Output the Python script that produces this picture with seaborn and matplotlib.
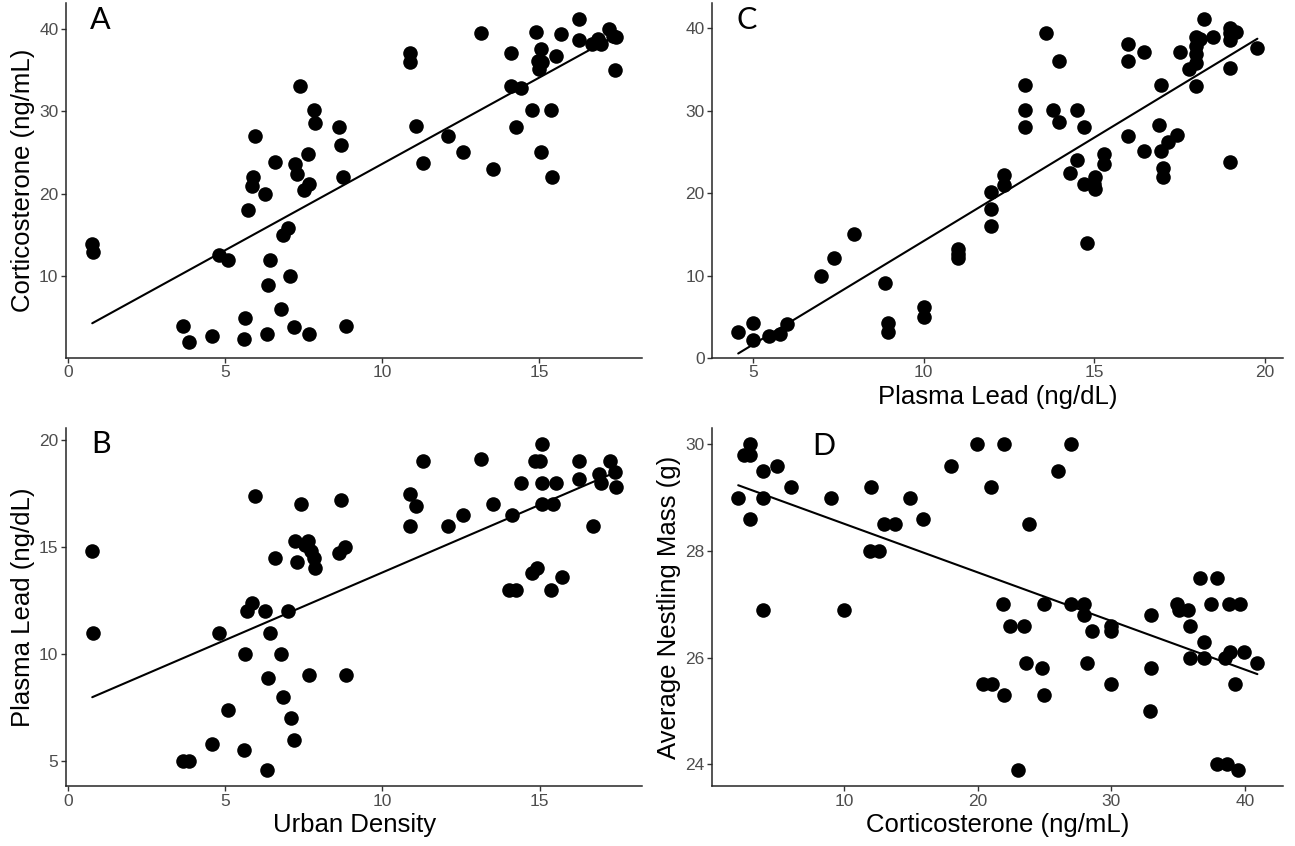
import pandas as pd
import seaborn as sns
import matplotlib.pyplot as plt

# panel A: urban density vs corticosterone
urban_a = [0.78, 0.82, 3.68, 3.86, 4.58, 4.81, 5.10, 5.60, 5.64, 5.72, 5.85, 5.89, 5.96, 6.27,
           6.33, 6.37, 6.42, 6.59, 6.79, 6.85, 7.01, 7.08, 7.19, 7.22, 7.28, 7.40, 7.51, 7.68,
           7.64, 7.67, 7.82, 7.86, 8.63, 8.69, 8.77, 8.85, 10.89, 10.89, 11.06, 11.30, 12.08,
           12.57, 13.14, 13.53, 14.11, 14.10, 14.26, 14.40, 14.78, 14.90, 14.94, 15.06, 15.07,
           15.00, 15.06, 15.36, 15.41, 15.52, 15.69, 16.26, 16.26, 16.68, 16.86, 16.95, 17.22,
           17.34, 17.44, 17.40]
cort_a = [13.9, 12.9, 4.0, 2.1, 2.8, 12.6, 12.0, 2.4, 5.0, 18.0, 21.0, 22.0, 27.0, 20.0,
          3.0, 9.0, 12.0, 23.9, 6.0, 15.0, 15.9, 10.0, 3.9, 23.6, 22.4, 33.0, 20.5, 21.2,
          24.8, 3.0, 30.1, 28.6, 28.1, 25.9, 22.0, 4.0, 37.1, 36.0, 28.2, 23.7, 27.0,
          25.1, 39.5, 23.0, 37.0, 33.0, 28.1, 32.8, 30.1, 39.6, 36.1, 37.5, 35.9,
          35.1, 25.1, 30.1, 22.0, 36.7, 39.3, 41.2, 38.6, 38.1, 38.8, 38.1, 40.0,
          39.1, 39.0, 35.0]

# panel B: urban density vs plasma lead
urban_b = [0.78, 0.81, 3.68, 3.86, 4.58, 4.81, 5.10, 5.60, 5.64, 5.71, 5.87, 5.96, 6.27, 6.33,
           6.37, 6.42, 6.59, 6.79, 6.85, 7.01, 7.09, 7.20, 7.22, 7.28, 7.40, 7.55, 7.64, 7.73,
           7.82, 7.86, 7.67, 8.63, 8.70, 8.80, 8.85, 10.89, 10.89, 11.06, 11.30, 12.08, 12.57,
           13.14, 13.53, 14.04, 14.26, 14.11, 14.40, 14.76, 14.90, 14.86, 15.00, 15.06, 15.06,
           15.06, 15.36, 15.42, 15.52, 15.70, 16.26, 16.26, 16.68, 16.90, 16.95, 17.22, 17.40,
           17.43]
lead_b = [14.8, 11.0, 5.0, 5.0, 5.8, 11.0, 7.4, 5.5, 10.0, 12.0, 12.4, 17.4, 12.0, 4.6,
          8.9, 11.0, 14.5, 10.0, 8.0, 12.0, 7.0, 6.0, 15.3, 14.3, 17.0, 15.1, 15.3, 14.8,
          14.5, 14.0, 9.0, 14.7, 17.2, 15.0, 9.0, 17.5, 16.0, 16.9, 19.0, 16.0, 16.5,
          19.1, 17.0, 13.0, 13.0, 16.5, 18.0, 13.8, 14.0, 19.0, 19.0, 19.8, 18.0,
          17.0, 13.0, 17.0, 18.0, 13.6, 19.0, 18.2, 16.0, 18.4, 18.0, 19.0, 18.5,
          17.8]

# panel C: plasma lead vs corticosterone
lead_c = [4.57, 5.0, 5.0, 5.48, 5.78, 6.0, 6.98, 7.36, 7.97, 8.88, 8.96, 8.96, 10.0, 10.0,
          11.0, 11.0, 11.0, 11.98, 11.98, 11.98, 12.36, 12.36, 12.97, 12.97, 12.97, 13.58,
          13.78, 13.96, 13.96, 14.29, 14.48, 14.48, 14.68, 14.68, 14.77, 14.99, 15.01, 15.01,
          15.29, 15.29, 15.99, 15.99, 15.99, 16.46, 16.46, 16.96, 16.88, 16.96, 17.0, 17.0,
          17.16, 17.41, 17.5, 17.78, 17.97, 17.97, 17.97, 17.97, 17.97, 18.22, 18.08, 18.47,
          18.98, 18.98, 18.98, 19.14, 18.98, 18.98, 19.77]
cort_c = [3.1, 4.2, 2.2, 2.6, 2.9, 4.1, 10.0, 12.1, 15.0, 9.1, 4.2, 3.1, 6.2, 5.0,
          13.2, 12.6, 12.1, 20.1, 18.1, 16.0, 22.2, 21.0, 33.1, 30.1, 28.0, 39.4,
          30.1, 36.0, 28.7, 22.4, 30.1, 24.0, 28.0, 21.1, 13.9, 21.1, 22.0, 20.5,
          24.8, 23.6, 38.1, 36.0, 27.0, 37.1, 25.1, 33.1, 28.3, 25.1, 23.1, 22.0,
          26.2, 27.1, 37.2, 35.1, 39.0, 37.9, 36.9, 35.8, 33.0, 41.2, 38.7, 39.0,
          40.1, 39.4, 38.6, 39.6, 35.2, 23.8, 37.6]

# panel D: corticosterone vs average nestling mass
cort_d = [2.04, 2.47, 2.90, 2.96, 2.96, 3.93, 3.93, 3.87, 4.98, 6.0, 8.97, 9.94, 12.0, 11.94,
          12.57, 13.0, 13.82, 14.93, 15.85, 17.98, 19.95, 20.4, 21.0, 21.06, 21.9, 21.98,
          21.98, 22.4, 22.97, 23.43, 23.63, 23.86, 24.77, 24.94, 24.94, 26.0, 26.97, 26.97,
          27.96, 27.96, 28.14, 28.53, 29.96, 29.96, 29.96, 32.95, 32.95, 32.9, 34.9, 35.1,
          35.75, 35.92, 35.92, 36.63, 36.97, 36.97, 37.49, 37.94, 37.94, 38.66, 38.5, 38.88,
          38.8, 39.6, 39.26, 39.46, 39.9, 40.94]
mass_d = [29.0, 29.8, 29.8, 30.0, 28.6, 29.5, 29.0, 26.9, 29.6, 29.2, 29.0, 26.9, 29.2, 28.0,
          28.0, 28.5, 28.5, 29.0, 28.6, 29.6, 30.0, 25.5, 29.2, 25.5, 27.0, 30.0,
          25.3, 26.6, 23.9, 26.6, 25.9, 28.5, 25.8, 27.0, 25.3, 29.5, 30.0, 27.0,
          27.0, 26.8, 25.9, 26.5, 26.6, 26.5, 25.5, 26.8, 25.8, 25.0, 27.0, 26.9,
          26.9, 26.6, 26.0, 27.5, 26.3, 26.0, 27.0, 27.5, 24.0, 24.0, 26.0, 26.1,
          27.0, 27.0, 25.5, 23.9, 26.1, 25.9]

sns.set_theme(style="ticks")
plt.rcParams['font.family'] = ['Liberation Sans', 'DejaVu Sans']
plt.rcParams['axes.linewidth'] = 1.1

fig = plt.figure(figsize=(12.95, 8.46), dpi=100)
pos = {
    'A': [0.051, 0.577, 0.445, 0.420],
    'C': [0.550, 0.577, 0.441, 0.420],
    'B': [0.051, 0.071, 0.445, 0.423],
    'D': [0.550, 0.071, 0.441, 0.423],
}

panels = [
    ('A', urban_a, cort_a, None, 'Corticosterone (ng/mL)', [0, 5, 10, 15], [10, 20, 30, 40], (0.042, 0.95)),
    ('C', lead_c, cort_c, 'Plasma Lead (ng/dL)', None, [5, 10, 15, 20], [0, 10, 20, 30, 40], (0.042, 0.95)),
    ('B', urban_b, lead_b, 'Urban Density', 'Plasma Lead (ng/dL)', [0, 5, 10, 15], [5, 10, 15, 20], (0.043, 0.955)),
    ('D', cort_d, mass_d, 'Corticosterone (ng/mL)', 'Average Nestling Mass (g)', [10, 20, 30, 40], [24, 26, 28, 30], (0.175, 0.95)),
]


def expand(v):
    lo, hi = min(v), max(v)
    pad = 0.05 * (hi - lo)
    return lo - pad, hi + pad


for letter, xs, ys, xlab, ylab, xt, yt, lpos in panels:
    ax = fig.add_axes(pos[letter])
    df = pd.DataFrame({'x': xs, 'y': ys})
    sns.regplot(data=df, x='x', y='y', ax=ax, ci=None, color='black',
                scatter_kws={'s': 110, 'alpha': 1, 'linewidths': 0},
                line_kws={'lw': 1.5})
    ax.set_xlim(*expand(xs))
    ax.set_ylim(*expand(ys))
    ax.set_xticks(xt)
    ax.set_yticks(yt)
    ax.set_xlabel(xlab if xlab else '', fontsize=18.5, color='black', labelpad=3)
    ax.set_ylabel(ylab if ylab else '', fontsize=18.5, color='black', labelpad=3)
    ax.tick_params(labelsize=12.5, labelcolor='#4D4D4D', color='#333333',
                   length=3.5, width=1.0, pad=2)
    sns.despine(ax=ax)
    ax.text(lpos[0], lpos[1], letter, transform=ax.transAxes, fontsize=22,
            family=['Lato', 'DejaVu Sans'], color='black', va='center', ha='left')

fig.savefig('out.png', dpi=100)
